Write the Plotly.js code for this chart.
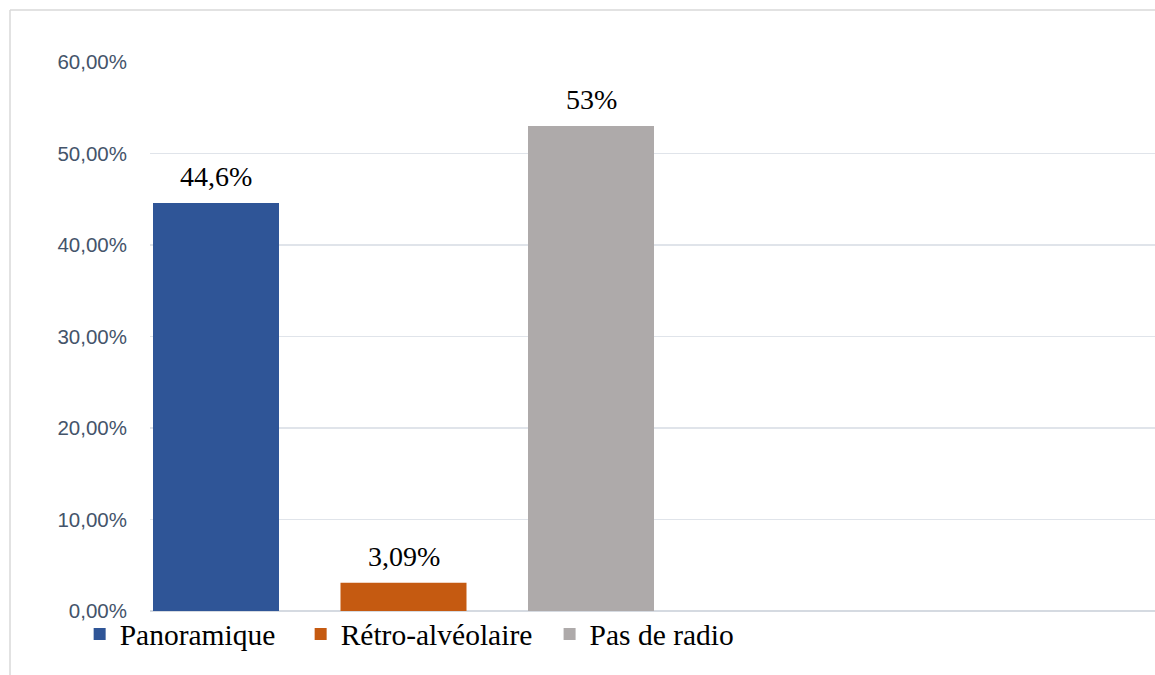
<!DOCTYPE html>
<html>
<head>
<meta charset="utf-8">
<script src="https://cdn.plot.ly/plotly-3.0.1.min.js"></script>
<style>html,body{margin:0;padding:0;background:#fff;}#chart{width:1155px;height:675px;}</style>
</head>
<body>
<div id="chart"></div>
<script>
const categories = ["Panoramique", "Rétro-alvéolaire", "Pas de radio"];
const values = [44.6, 3.09, 53];
const labels = ["44,6%", "3,09%", "53%"];
const colors = ["#2F5597", "#C55A11", "#AEAAAA"];
const yTickVals = [0, 10, 20, 30, 40, 50, 60];
const yTickText = ["0,00%", "10,00%", "20,00%", "30,00%", "40,00%", "50,00%", "60,00%"];

const legendIds = ["legend", "legend2", "legend3"];
const legendX = [-0.070, 0.1499, 0.3976];

const traces = categories.map((c, i) => ({
  type: "bar",
  name: c,
  x: [c],
  y: [values[i]],
  width: 0.672,
  marker: {color: colors[i]},
  legend: legendIds[i],
  hoverinfo: "skip"
}));

const annotations = categories.map((c, i) => ({
  x: c, y: values[i], xref: "x", yref: "y",
  text: labels[i], showarrow: false,
  yanchor: "bottom", yshift: 9,
  font: {family: "Liberation Serif, Times New Roman, serif", size: 28, color: "#000"}
}));

const legendFont = {family: "Liberation Serif, Times New Roman, serif", size: 29.5, color: "#000"};

const layout = {
  width: 1155, height: 675,
  margin: {l: 150, r: 0, t: 62, b: 64},
  paper_bgcolor: "#fff", plot_bgcolor: "#fff",
  barmode: "overlay",
  showlegend: true,
  xaxis: {
    type: "category", categoryorder: "array", categoryarray: categories,
    range: [-0.352, 5.008], showticklabels: false, showgrid: false,
    zeroline: false, showline: false, ticks: ""
  },
  yaxis: {
    range: [0, 60], tickvals: yTickVals, ticktext: yTickText,
    showgrid: true, gridcolor: "#E0E4EA", gridwidth: 1.3,
    zeroline: true, zerolinecolor: "#D5DAE1", zerolinewidth: 2,
    showline: false, ticks: "", ticklabelstandoff: 22,
    tickfont: {family: "Liberation Sans, Arial, sans-serif", size: 20.5, color: "#44546A"}
  },
  annotations: annotations,
  shapes: [
    {type: "line", xref: "paper", yref: "paper", x0: -140/1005, x1: 1.2, y0: (611-10)/549, y1: (611-10)/549, line: {color: "#D9D9D9", width: 1.5}},
    {type: "line", xref: "paper", yref: "paper", x0: -140/1005, x1: -140/1005, y0: (611-10)/549, y1: -0.2, line: {color: "#D9D9D9", width: 1.5}}
  ]
};

legendIds.forEach((id, i) => {
  layout[id] = {
    orientation: "h", x: legendX[i], xanchor: "left", y: 0.005, yanchor: "top",
    font: legendFont, itemclick: false, bgcolor: "rgba(0,0,0,0)"
  };
});

Plotly.newPlot("chart", traces, layout, {displayModeBar: false, staticPlot: true});
</script>
</body>
</html>
